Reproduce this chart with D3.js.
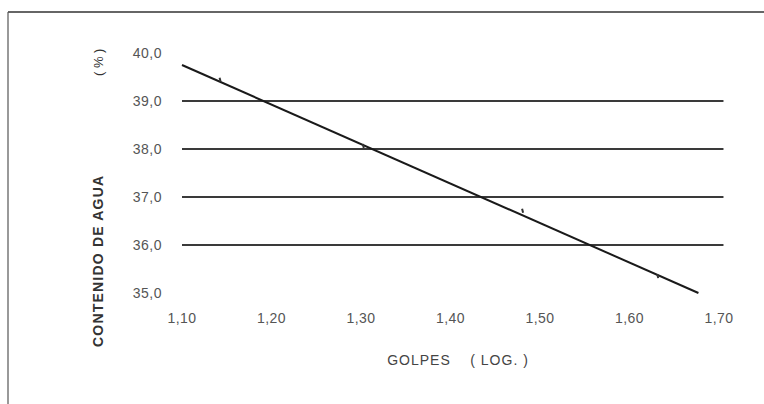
<!DOCTYPE html>
<html>
<head>
<meta charset="utf-8">
<script src="https://cdn.jsdelivr.net/npm/d3@7"></script>
<style>
  body { margin: 0; background: #fff; }
  svg { display: block; }
  text { white-space: pre; }
  .tick { font-family: "Liberation Sans", Arial, sans-serif; fill: #555; }
</style>
</head>
<body>
<div id="chart"></div>
<script>
// ticks
var xTicks = [1.10, 1.20, 1.30, 1.40, 1.50, 1.60, 1.70];
var yTicks = [35, 36, 37, 38, 39, 40];
var gridVals = [36, 37, 38, 39];

// measured points (log golpes, % agua)
var golpesLog = [1.142, 1.302, 1.480, 1.631];
var contenido = [39.40, 38.02, 36.67, 35.31];

// fitted line ends
var fitX = [1.10, 1.677];
var fitY = [39.75, 35.0];

var width = 764, height = 404;

var svg = d3.select("#chart").append("svg")
  .attr("width", width)
  .attr("height", height);

var x = d3.scaleLinear().domain([1.10, 1.70]).range([182, 719]);
var y = d3.scaleLinear().domain([35, 40]).range([293, 53]);

var comma = function (v, n) { return v.toFixed(n).replace(".", ","); };

// frame (top + left edge of the page)
svg.append("line")
  .attr("x1", 8).attr("y1", 12).attr("x2", width).attr("y2", 12)
  .style("stroke", "#333").style("stroke-width", 1.6);
svg.append("line")
  .attr("x1", 8).attr("y1", 12).attr("x2", 8).attr("y2", height)
  .style("stroke", "#555").style("stroke-width", 1.2);

// horizontal gridlines
svg.selectAll(".grid").data(gridVals).enter().append("line")
  .attr("class", "grid")
  .attr("x1", x(1.10)).attr("x2", x(1.705))
  .attr("y1", function (d) { return y(d); })
  .attr("y2", function (d) { return y(d); })
  .style("stroke", "#3a3a3a").style("stroke-width", 1.8);

// y tick labels
svg.selectAll(".ylab").data(yTicks).enter().append("text")
  .attr("class", "tick")
  .attr("text-anchor", "end")
  .attr("x", 162)
  .attr("y", function (d) { return y(d) + 5; })
  .style("font-size", "14px")
  .style("letter-spacing", "0.5px")
  .text(function (d) { return comma(d, 1); });

// x tick labels
svg.selectAll(".xlab").data(xTicks).enter().append("text")
  .attr("class", "tick")
  .attr("text-anchor", "middle")
  .attr("x", function (d) { return x(d); })
  .attr("y", 323)
  .style("font-size", "14px")
  .style("letter-spacing", "0.5px")
  .text(function (d) { return comma(d, 2); });

// axis titles
svg.append("text")
  .attr("text-anchor", "middle")
  .attr("x", 458).attr("y", 365)
  .style("font-family", "Liberation Sans, Arial, sans-serif")
  .style("font-size", "14px")
  .style("fill", "#444")
  .style("letter-spacing", "1px")
  .text("GOLPES    ( LOG. )");

svg.append("text")
  .attr("transform", "translate(103,347) rotate(-90)")
  .attr("text-anchor", "start")
  .style("font-family", "Liberation Sans, Arial, sans-serif")
  .style("font-size", "14px")
  .style("font-weight", "bold")
  .style("fill", "#333")
  .style("letter-spacing", "1.2px")
  .text("CONTENIDO DE AGUA");

svg.append("text")
  .attr("transform", "translate(103,76) rotate(-90)")
  .attr("text-anchor", "start")
  .style("font-family", "Liberation Sans, Arial, sans-serif")
  .style("font-size", "13px")
  .style("fill", "#333")
  .text("( % )");

// fitted line
var line = d3.line()
  .x(function (d) { return x(d[0]); })
  .y(function (d) { return y(d[1]); });

svg.append("path")
  .datum(d3.zip(fitX, fitY))
  .attr("d", line)
  .style("fill", "none")
  .style("stroke", "#1a1a1a")
  .style("stroke-width", 2);

// point marks
svg.selectAll(".pt").data(d3.zip(golpesLog, contenido)).enter().append("line")
  .attr("class", "pt")
  .attr("x1", function (d) { return x(d[0]); })
  .attr("x2", function (d) { return x(d[0]) + 1; })
  .attr("y1", function (d) { return y(d[1]) - 4; })
  .attr("y2", function (d) { return y(d[1]); })
  .style("stroke", "#333")
  .style("stroke-width", 2);
</script>
</body>
</html>
